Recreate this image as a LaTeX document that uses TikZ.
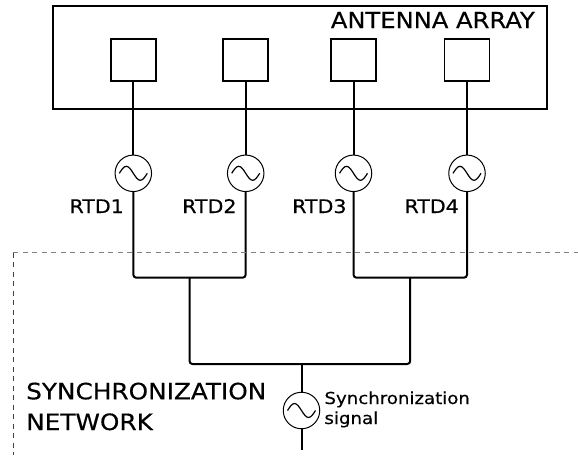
\documentclass[tikz,border=0pt]{standalone}
\usepackage{fontspec}
\setmainfont[FakeStretch=1.1,FakeBold=0.4]{DejaVu Sans}
\begin{document}
\begin{tikzpicture}[x=1pt,y=-1pt,
  antbox/.style={draw,line width=1.8pt,minimum width=45pt,minimum height=42pt,inner sep=0pt},
  osc/.style={circle,draw,line width=1pt,minimum size=36.5pt,inner sep=0pt,
    path picture={\draw[line width=1.2pt] ([xshift=-14pt]path picture bounding box.center)
      sin ++(7pt,7pt) cos ++(7pt,-7pt) sin ++(7pt,-7pt) cos ++(7pt,7pt);}},
  lbl/.style={inner sep=0pt,font=\fontsize{18.7pt}{22pt}\selectfont},
  biglbl/.style={inner sep=0pt,font=\fontsize{22.5pt}{30pt}\selectfont},
  smalllbl/.style={inner sep=0pt,font=\fontsize{16.5pt}{20pt}\selectfont},
  wire/.style={line width=2pt,rounded corners=3pt}]
\useasboundingbox (0,0) rectangle (578,455);
% antenna array box
\draw[line width=2pt] (52.7,5.7) rectangle (546.7,109);
\node[biglbl,font=\fontsize{22pt}{26pt}\selectfont,anchor=base west] (arr) at (330.7,28) {ANTENNA ARRAY};
% antennas
\node[antbox] (a1) at (133.3,60) {};
\node[antbox] (a2) at (245.7,60) {};
\node[antbox] (a3) at (353.5,60) {};
\node[antbox] (a4) at (467,60) {};
% oscillators
\node[osc] (o1) at (133.3,173.3) {};
\node[osc] (o2) at (245.7,173.3) {};
\node[osc] (o3) at (353.5,173.3) {};
\node[osc] (o4) at (467,173.3) {};
\node[lbl,anchor=base east] (r1) at (124,213) {RTD1};
\node[lbl,anchor=base east] (r2) at (236.7,213) {RTD2};
\node[lbl,anchor=base east] (r3) at (346.7,213) {RTD3};
\node[lbl,anchor=base east] (r4) at (459,213) {RTD4};
% connections
\foreach \i in {1,2,3,4} \draw[wire] (a\i.south) -- (o\i.north);
\coordinate (m1) at (189.5,277.7);
\coordinate (m2) at (410.2,277.7);
\coordinate (m3) at (301.5,364);
\draw[wire] (o1.south) |- (m1) -| (o2.south);
\draw[wire] (o3.south) |- (m2) -| (o4.south);
\draw[wire] (m1) |- (m3) -| (m2);
\node[osc] (os) at (301.5,410.5) {};
\coordinate (send) at (301.5,450);
\draw[wire] (m3) -- (os.north);
\draw[wire] (os.south) -- (send);
\node[smalllbl,anchor=base west] (st1) at (324.3,404) {Synchronization};
\node[smalllbl,anchor=base west] (st2) at (324.3,424) {signal};
% synchronization network region
\draw[gray,line width=1.2pt,dash pattern=on 5pt off 4.5pt] (13.3,252.7) -- (578,252.7);
\draw[black!75,line width=0.9pt,dash pattern=on 5pt off 4.5pt] (13.3,252.7) -- (13.3,455);
\node[biglbl,anchor=base west] (sn1) at (26,399.3) {SYNCHRONIZATION};
\node[biglbl,anchor=base west] (sn2) at (26,430) {NETWORK};
\end{tikzpicture}
\end{document}
